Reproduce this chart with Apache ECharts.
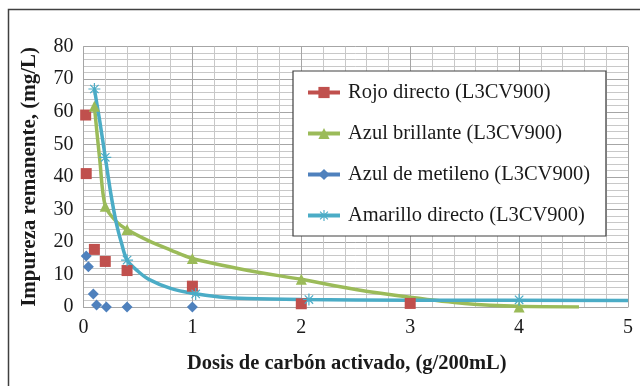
<!DOCTYPE html>
<html>
<head>
<meta charset="utf-8">
<script src="https://cdn.jsdelivr.net/npm/echarts@6/dist/echarts.min.js"></script>
<style>html,body{margin:0;padding:0;background:#fff}#c{width:640px;height:386px}</style>
</head>
<body>
<div id="c"></div>
<script>
// Marker data
var rojoX = [0.02, 0.025, 0.1, 0.2, 0.4, 1, 2, 3];
var rojoY = [59, 41, 17.7, 14, 11.2, 6.4, 1, 1.1];
var brillX = [0.1, 0.2, 0.4, 1, 2, 4];
var brillY = [61.7, 31, 23.8, 14.9, 8.5, 0];
var metilX = [0.025, 0.045, 0.09, 0.12, 0.21, 0.4, 1];
var metilY = [15.7, 12.4, 4, 0.6, 0, 0, 0];
var amarX = [0.1, 0.2, 0.4, 1.03, 2.07, 4];
var amarY = [67, 46, 14.4, 4.0, 2.3, 2.2];
// Curves (trend lines)
var brillCurveX = [0.1, 0.15, 0.2, 0.3, 0.4, 0.6, 0.8, 1, 1.5, 2, 2.5, 3, 3.5, 4, 4.55];
var brillCurveY = [61.7, 45, 31, 26.3, 23.8, 20.3, 17.5, 14.9, 11.3, 8.5, 5.4, 3.0, 1.1, 0.2, 0];
var amarCurveX = [0.1, 0.15, 0.2, 0.25, 0.3, 0.35, 0.4, 0.5, 0.6, 0.8, 1, 1.25, 1.5, 2, 3, 5];
var amarCurveY = [67, 57, 46, 35, 26, 19.5, 14.4, 11, 8.5, 5.7, 4.2, 3.1, 2.6, 2.3, 2.1, 2.0];
var names = ['Rojo directo (L3CV900)', 'Azul brillante (L3CV900)', 'Azul de metileno (L3CV900)', 'Amarillo directo (L3CV900)'];
var xTicks = [0, 1, 2, 3, 4, 5];
var yTicks = [0, 10, 20, 30, 40, 50, 60, 70, 80];

function pairs(xs, ys) { return xs.map(function (x, i) { return [x, ys[i]]; }); }

var RED = '#C0504D', GREEN = '#9BBB59', BLUE = '#4F81BD', CYAN = '#4BACC6';
var STAR = 'path://M-1,-10 L1,-10 L1,10 L-1,10 Z M-6.3,-7.7 L7.7,6.3 L6.3,7.7 L-7.7,-6.3 Z M6.3,-7.7 L7.7,-6.3 L-6.3,7.7 L-7.7,6.3 Z M-10,-1 L10,-1 L10,1 L-10,1 Z';
var font = 'Liberation Serif';

var chart = echarts.init(document.getElementById('c'), null, { renderer: 'canvas' });
chart.setOption({
  animation: false,
  backgroundColor: '#fff',
  graphic: [{
    type: 'rect', shape: { x: 8.5, y: 9.5, width: 700, height: 500 },
    style: { fill: 'none', stroke: '#404040', lineWidth: 1.5 }, silent: true, z: 0
  }],
  grid: { left: 83.5, right: 12, top: 46.7, bottom: 79, containLabel: false },
  xAxis: {
    type: 'value', min: 0, max: 5, interval: 1,
    name: 'Dosis de carbón activado, (g/200mL)', nameLocation: 'middle', nameGap: 46,
    nameTextStyle: { fontFamily: font, fontWeight: 'bold', fontSize: 20.5, color: '#1a1a1a', padding: [0, 18, 0, 0] },
    axisLine: { show: true, lineStyle: { color: '#A6A6A6', width: 1 } },
    axisTick: { show: false },
    axisLabel: { fontFamily: font, fontSize: 20, color: '#1a1a1a', margin: 11,
      formatter: function (v) { return xTicks.indexOf(v) >= 0 ? String(v) : ''; } },
    splitLine: { show: true, lineStyle: { color: '#A6A6A6', width: 1 } },
    minorTick: { show: false, splitNumber: 5 },
    minorSplitLine: { show: true, lineStyle: { color: '#C8C8C8', width: 1 } }
  },
  yAxis: {
    type: 'value', min: 0, max: 80, interval: 10,
    name: 'Impureza remanente, (mg/L)', nameLocation: 'middle', nameGap: 43, nameRotate: 90,
    nameTextStyle: { fontFamily: font, fontWeight: 'bold', fontSize: 21, color: '#1a1a1a' },
    axisLine: { show: true, lineStyle: { color: '#A6A6A6', width: 1 } },
    axisTick: { show: false },
    axisLabel: { fontFamily: font, fontSize: 20, color: '#1a1a1a', margin: 10,
      formatter: function (v) { return yTicks.indexOf(v) >= 0 ? String(v) : ''; } },
    splitLine: { show: true, lineStyle: { color: '#A6A6A6', width: 1 } },
    minorTick: { show: false, splitNumber: 5 },
    minorSplitLine: { show: true, lineStyle: { color: '#C8C8C8', width: 1 } }
  },
  legend: {
    orient: 'vertical', left: 293, top: 71,
    data: names,
    backgroundColor: '#fff', borderColor: '#404040', borderWidth: 1.2,
    padding: [11, 16, 10, 13],
    itemGap: 20, itemWidth: 32, itemHeight: 14,
    lineStyle: { opacity: 1, width: 4 },
    textStyle: { fontFamily: font, fontSize: 20.5, color: '#1a1a1a', padding: [0, 0, 0, 3] }
  },
  series: [
    { name: 'brillCurve', type: 'line', data: pairs(brillCurveX, brillCurveY), smooth: 0.3,
      symbol: 'none', lineStyle: { color: GREEN, width: 3.5 }, z: 2, silent: true },
    { name: 'amarCurve', type: 'line', data: pairs(amarCurveX, amarCurveY), smooth: 0.3,
      symbol: 'none', lineStyle: { color: CYAN, width: 3.5 }, z: 3, silent: true },
    { name: names[0], type: 'line', data: pairs(rojoX, rojoY), symbol: 'rect', symbolSize: 11,
      itemStyle: { color: RED }, lineStyle: { color: RED, width: 4, opacity: 0 }, z: 4 },
    { name: names[1], type: 'line', data: pairs(brillX, brillY), symbol: 'triangle', symbolSize: 11,
      itemStyle: { color: GREEN }, lineStyle: { color: GREEN, width: 4, opacity: 0 }, z: 4 },
    { name: names[2], type: 'line', data: pairs(metilX, metilY), symbol: 'diamond', symbolSize: 11,
      itemStyle: { color: BLUE }, lineStyle: { color: BLUE, width: 4, opacity: 0 }, z: 4 },
    { name: names[3], type: 'line', data: pairs(amarX, amarY), symbol: STAR, symbolSize: 12,
      itemStyle: { color: CYAN }, lineStyle: { color: CYAN, width: 4, opacity: 0 }, z: 5 }
  ]
});
</script>
</body>
</html>
